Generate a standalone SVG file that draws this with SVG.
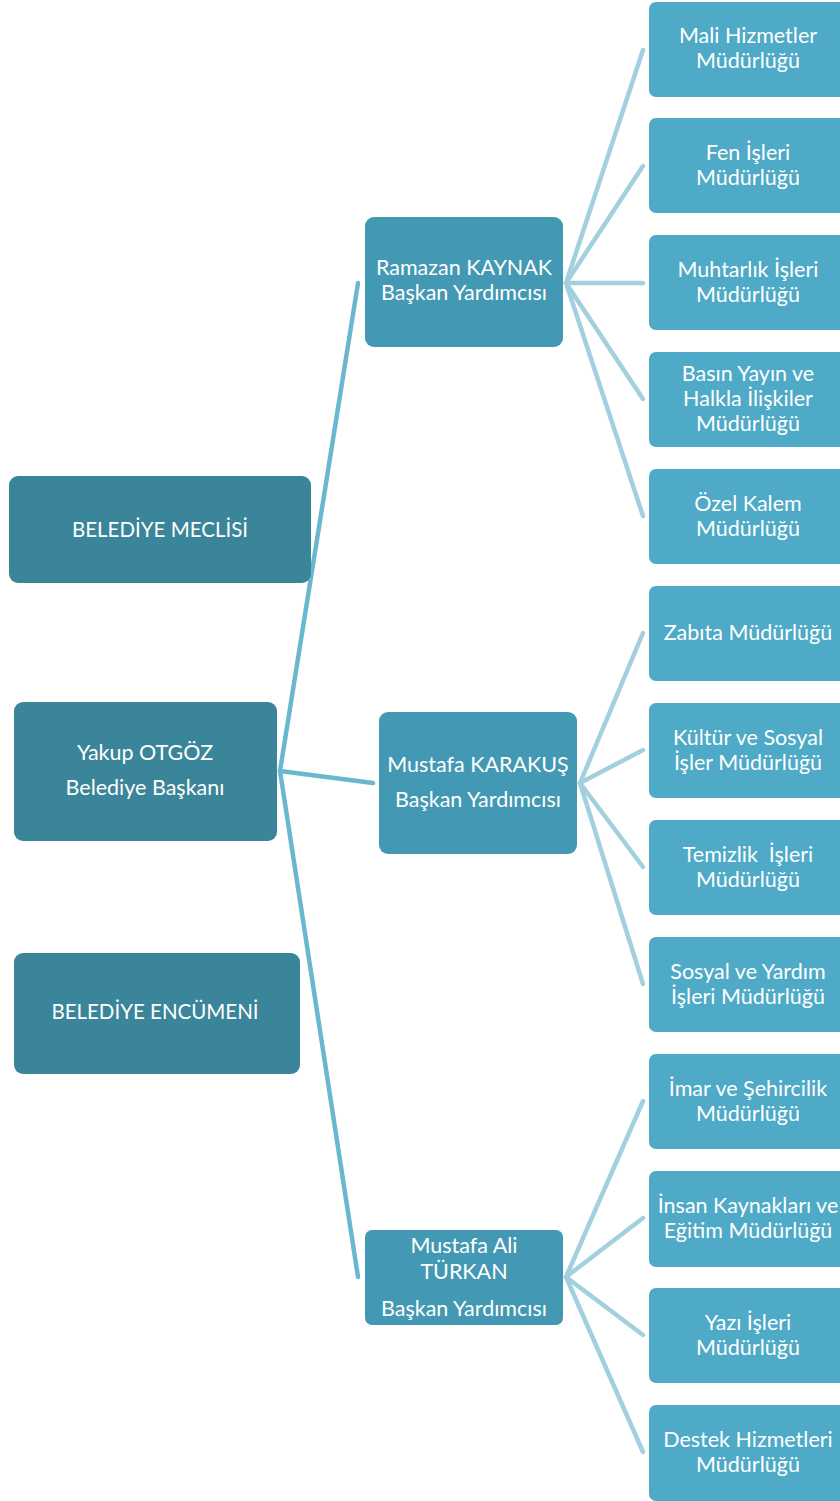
<svg xmlns="http://www.w3.org/2000/svg" width="840" height="1501" viewBox="0 0 840 1501">
<style>
.dark{fill:#3a8599}
.mid{fill:#4399b3}
.leaf{fill:#4eaac6}
.t{font-family:Lato,"Open Sans","Liberation Sans",sans-serif;font-size:21.5px;fill:#ffffff;text-anchor:middle}
.cap{font-size:20.5px}
.c1{stroke:#6ab8cf;stroke-width:4.5;fill:none;stroke-linecap:round}
.c2{stroke:#a2d0de;stroke-width:4.5;fill:none;stroke-linecap:round}
</style>
<rect width="840" height="1501" fill="#ffffff"/>
<g id="connectors">
<line class="c1" x1="280" y1="771" x2="358" y2="283"/>
<line class="c1" x1="280" y1="771" x2="373" y2="783"/>
<line class="c1" x1="280" y1="771" x2="358" y2="1277"/>
<line class="c2" x1="566" y1="283" x2="643" y2="50"/>
<line class="c2" x1="566" y1="283" x2="643" y2="166"/>
<line class="c2" x1="566" y1="283" x2="643" y2="283"/>
<line class="c2" x1="566" y1="283" x2="643" y2="399"/>
<line class="c2" x1="566" y1="283" x2="643" y2="516"/>
<line class="c2" x1="580" y1="783" x2="643" y2="633"/>
<line class="c2" x1="580" y1="783" x2="643" y2="750"/>
<line class="c2" x1="580" y1="783" x2="643" y2="867"/>
<line class="c2" x1="580" y1="783" x2="643" y2="984"/>
<line class="c2" x1="566" y1="1277" x2="643" y2="1101"/>
<line class="c2" x1="566" y1="1277" x2="643" y2="1218"/>
<line class="c2" x1="566" y1="1277" x2="643" y2="1335"/>
<line class="c2" x1="566" y1="1277" x2="643" y2="1452"/>
</g>
<g id="meclis"><rect class="dark" x="9" y="476" width="302" height="107" rx="9"/><text class="t cap" x="160" y="537">BELEDİYE MECLİSİ</text></g>
<g id="baskan"><rect class="dark" x="14" y="702" width="263" height="139" rx="9"/><text class="t" x="145" y="760">Yakup OTGÖZ</text><text class="t" x="145" y="795">Belediye Başkanı</text></g>
<g id="encumen"><rect class="dark" x="14" y="953" width="286" height="121" rx="9"/><text class="t cap" x="155" y="1019">BELEDİYE ENCÜMENİ</text></g>
<g id="ramazan"><rect class="mid" x="365" y="217" width="198" height="130" rx="9"/><text class="t" x="464" y="275">Ramazan KAYNAK</text><text class="t" x="464" y="300">Başkan Yardımcısı</text></g>
<g id="karakus"><rect class="mid" x="379" y="712" width="198" height="142" rx="9"/><text class="t" x="478" y="772">Mustafa KARAKUŞ</text><text class="t" x="478" y="807">Başkan Yardımcısı</text></g>
<g id="turkan"><rect class="mid" x="365" y="1230" width="198" height="95" rx="7"/><text class="t" x="464" y="1253">Mustafa Ali</text><text class="t" x="464" y="1279">TÜRKAN</text><text class="t" x="464" y="1316">Başkan Yardımcısı</text></g>
<g id="mali"><rect class="leaf" x="649" y="2" width="200" height="95" rx="7"/><text class="t" x="748" y="43">Mali Hizmetler</text><text class="t" x="748" y="68">Müdürlüğü</text></g>
<g id="fen"><rect class="leaf" x="649" y="118" width="200" height="95" rx="7"/><text class="t" x="748" y="160">Fen İşleri</text><text class="t" x="748" y="185">Müdürlüğü</text></g>
<g id="muhtarlik"><rect class="leaf" x="649" y="235" width="200" height="95" rx="7"/><text class="t" x="748" y="277">Muhtarlık İşleri</text><text class="t" x="748" y="302">Müdürlüğü</text></g>
<g id="basin"><rect class="leaf" x="649" y="352" width="200" height="95" rx="7"/><text class="t" x="748" y="381">Basın Yayın ve</text><text class="t" x="748" y="406">Halkla İlişkiler</text><text class="t" x="748" y="431">Müdürlüğü</text></g>
<g id="ozel"><rect class="leaf" x="649" y="469" width="200" height="95" rx="7"/><text class="t" x="748" y="511">Özel Kalem</text><text class="t" x="748" y="536">Müdürlüğü</text></g>
<g id="zabita"><rect class="leaf" x="649" y="586" width="200" height="95" rx="7"/><text class="t" x="748" y="640">Zabıta Müdürlüğü</text></g>
<g id="kultur"><rect class="leaf" x="649" y="703" width="200" height="95" rx="7"/><text class="t" x="748" y="745">Kültür ve Sosyal</text><text class="t" x="748" y="770">İşler Müdürlüğü</text></g>
<g id="temizlik"><rect class="leaf" x="649" y="820" width="200" height="95" rx="7"/><text class="t" x="748" y="862" xml:space="preserve">Temizlik  İşleri</text><text class="t" x="748" y="887">Müdürlüğü</text></g>
<g id="sosyal"><rect class="leaf" x="649" y="937" width="200" height="95" rx="7"/><text class="t" x="748" y="979">Sosyal ve Yardım</text><text class="t" x="748" y="1004">İşleri Müdürlüğü</text></g>
<g id="imar"><rect class="leaf" x="649" y="1054" width="200" height="95" rx="7"/><text class="t" x="748" y="1096">İmar ve Şehircilik</text><text class="t" x="748" y="1121">Müdürlüğü</text></g>
<g id="insan"><rect class="leaf" x="649" y="1171" width="200" height="96" rx="7"/><text class="t" x="748" y="1213">İnsan Kaynakları ve</text><text class="t" x="748" y="1238">Eğitim Müdürlüğü</text></g>
<g id="yazi"><rect class="leaf" x="649" y="1288" width="200" height="95" rx="7"/><text class="t" x="748" y="1330">Yazı İşleri</text><text class="t" x="748" y="1355">Müdürlüğü</text></g>
<g id="destek"><rect class="leaf" x="649" y="1405" width="200" height="96" rx="7"/><text class="t" x="748" y="1447">Destek Hizmetleri</text><text class="t" x="748" y="1472">Müdürlüğü</text></g>
</svg>
